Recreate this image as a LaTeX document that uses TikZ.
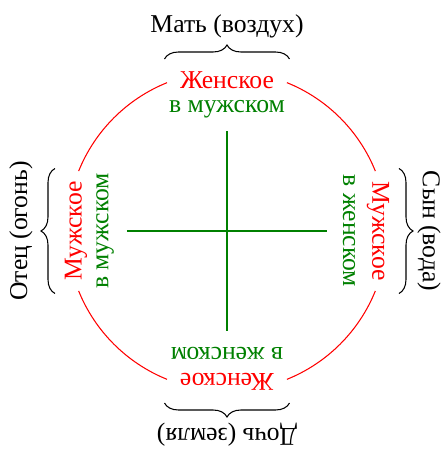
\documentclass[tikz,border=0pt]{standalone}
\usepackage{fontspec}
\setmainfont{Liberation Serif}
\usetikzlibrary{decorations.pathreplacing}
\definecolor{darkgreen}{RGB}{0,128,0}
\begin{document}
\begin{tikzpicture}[
every node/.style={font=\fontsize{14.6}{17}\selectfont, inner sep=1pt},
outer text/.style={text=red},
inner text/.style={text=darkgreen},
ring/.style={red, line width=0.6pt},
cross/.style={darkgreen, line width=1.1pt},
bracket/.style={decorate, decoration={brace, amplitude=0.28cm}, line width=0.6pt},
]
  \useasboundingbox (-4.54,-4.38) rectangle (4.32,4.62);
  % the cross
  \coordinate (n) at (0,2);
  \coordinate (s) at (0,-2);
  \coordinate (w) at (-2,0);
  \coordinate (e) at (2,0);
  \draw[cross] (n) -- (s);
  \draw[cross] (w) -- (e);
  % the four sides
  \foreach \ang/\txa/\txb/\txc/\dist in {0/Женское/в мужском/Мать (воздух)/3.86,
      90/Мужское/в мужском/Отец (огонь)/3.88,
      180/Женское/в женском/Дочь (земля)/3.84,
      270/Мужское/в женском/Сын (вода)/3.80} {
    \begin{scope}[rotate=\ang]
      \draw[ring] (22:3.2) arc (22:68:3.2);
      \node[outer text, rotate=\ang] (m\ang) at (0,3.02) {\txa};
      \node[inner text, rotate=\ang] (s\ang) at (0,2.44) {\txb};
      \coordinate (bl\ang) at (-1.25,3.44);
      \coordinate (br\ang) at (1.25,3.44);
      \draw[bracket] (bl\ang) -- (br\ang);
      \node[rotate=\ang, anchor=south, inner sep=0pt] (p\ang) at (0,\dist) {\txc};
    \end{scope}
  }
\end{tikzpicture}
\end{document}
